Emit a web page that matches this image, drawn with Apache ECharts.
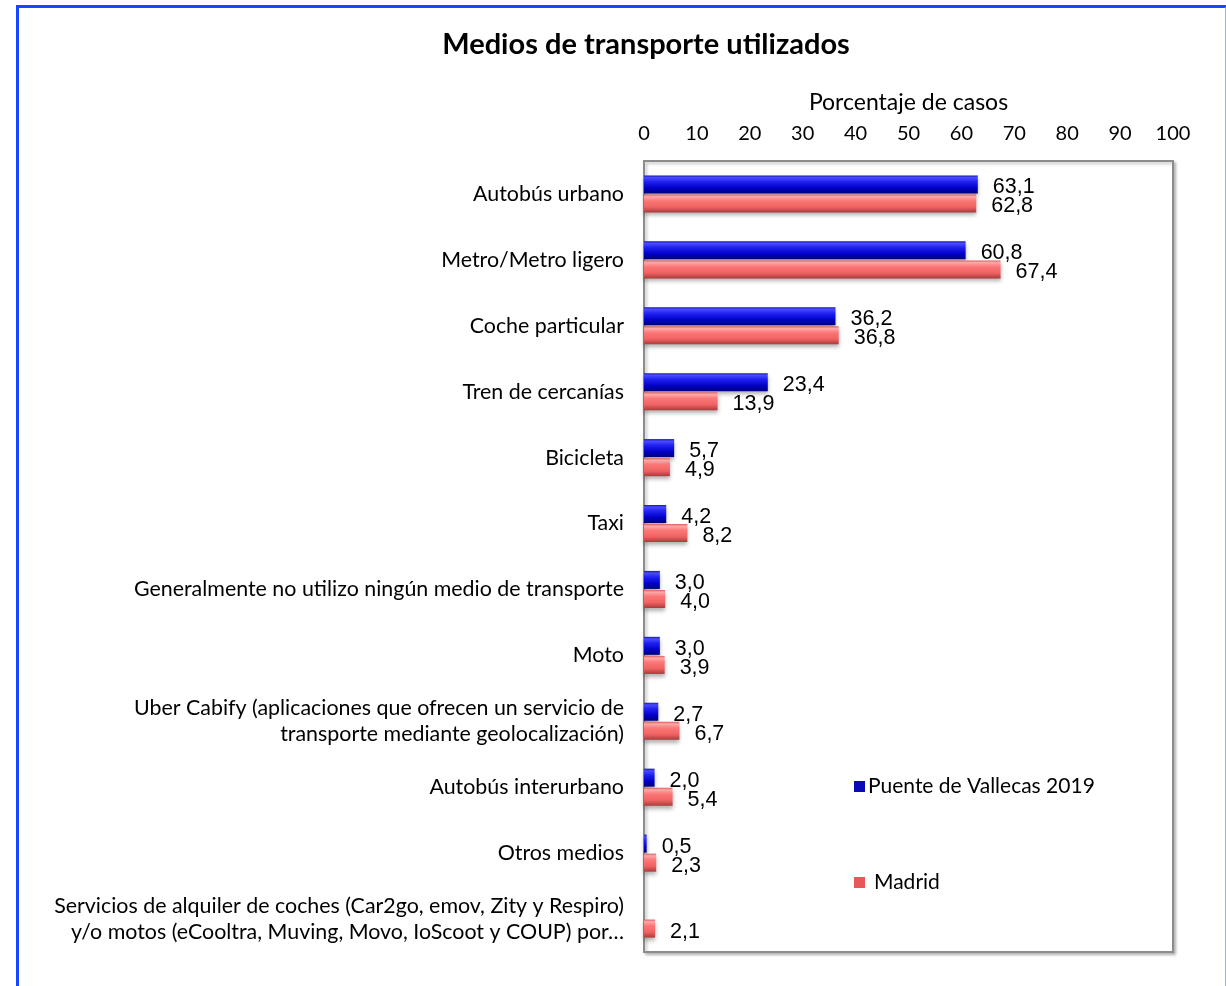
<!DOCTYPE html>
<html>
<head>
<meta charset="utf-8">
<script src="https://cdn.jsdelivr.net/npm/echarts@6/dist/echarts.min.js"></script>
<style>
    html, body { margin: 0; padding: 0; background: #fff; }
    #frame {
        position: absolute; left: 16px; top: 5px; width: 1206px; height: 1000px;
        border-left: 3px solid #1447ff; border-top: 3px solid #1447ff; border-right: 2px solid #9fb0ff;
    }
    #chart { position: absolute; left: 0; top: 0; width: 1226px; height: 986px; }
</style>
</head>
<body>
<div id="frame"></div>
<div id="chart"></div>
<script>
// Categories, top to bottom
const categories = [
    'Autobús urbano',
    'Metro/Metro ligero',
    'Coche particular',
    'Tren de cercanías',
    'Bicicleta',
    'Taxi',
    'Generalmente no utilizo ningún medio de transporte',
    'Moto',
    'Uber Cabify (aplicaciones que ofrecen un servicio de\ntransporte mediante geolocalización)',
    'Autobús interurbano',
    'Otros medios',
    'Servicios de alquiler de coches (Car2go, emov, Zity y Respiro)\ny/o motos (eCooltra, Muving, Movo, IoScoot y COUP) por…'
];

const vallecas = [63.1, 60.8, 36.2, 23.4, 5.7, 4.2, 3.0, 3.0, 2.7, 2.0, 0.5, null];
const madrid = [62.8, 67.4, 36.8, 13.9, 4.9, 8.2, 4.0, 3.9, 6.7, 5.4, 2.3, 2.1];

const xTicks = [0, 100, 10]; // min, max, interval

const chart = echarts.init(document.getElementById('chart'), null, { renderer: 'canvas' });

// Fake the bevelled 3D look with vertical gradients
const blueFill = new echarts.graphic.LinearGradient(0, 0, 0, 1, [
    { offset: 0, color: '#1a1aa8' },
    { offset: 0.12, color: '#4b4bff' },
    { offset: 0.35, color: '#2020f0' },
    { offset: 0.7, color: '#0000c8' },
    { offset: 1, color: '#00007a' }
]);
const redFill = new echarts.graphic.LinearGradient(0, 0, 0, 1, [
    { offset: 0, color: '#d86060' },
    { offset: 0.12, color: '#ffa8a8' },
    { offset: 0.35, color: '#fb7777' },
    { offset: 0.7, color: '#f06262' },
    { offset: 1, color: '#a83b3b' }
]);

const fmt = (p) => p.value == null ? '' : p.value.toFixed(1).replace('.', ',');

const labelStyle = {
    show: true,
    position: 'right',
    distance: 15,
    offset: [0, 3],
    color: '#000',
    fontSize: 21.5,
    fontFamily: '"Liberation Sans", Arial, sans-serif',
    formatter: fmt
};

chart.setOption({
    backgroundColor: 'transparent',
    animation: false,
    title: {
        text: 'Medios de transporte utilizados',
        left: 641,
        textAlign: 'center',
        top: 25,
        textStyle: { fontFamily: 'Lato', fontWeight: 'bold', fontSize: 29, color: '#000' }
    },
    legend: {
        orient: 'vertical',
        left: 849,
        top: 771,
        itemGap: 75,
        itemWidth: 11,
        itemHeight: 11,
        icon: 'rect',
        textStyle: { fontFamily: 'Lato', fontSize: 21, color: '#000', padding: [0, 0, 0, -2] },
        data: [
            { name: 'Puente de Vallecas 2019', itemStyle: { color: '#0a0ab8' } },
            { name: 'Madrid', itemStyle: { color: '#e85858' }, textStyle: { padding: [0, 0, 0, 4] } }
        ]
    },
    grid: {
        left: 644,
        right: 53,
        top: 161,
        bottom: 34,
        show: true,
        borderColor: '#8c8c8c',
        borderWidth: 2,
        backgroundColor: '#fff',
        shadowColor: 'rgba(0,0,0,0.25)',
        shadowBlur: 3,
        shadowOffsetX: 2,
        shadowOffsetY: 2
    },
    xAxis: {
        type: 'value',
        position: 'top',
        min: xTicks[0],
        max: xTicks[1],
        interval: xTicks[2],
        name: 'Porcentaje de casos',
        nameLocation: 'middle',
        nameGap: 47,
        nameTextStyle: { fontFamily: 'Lato', fontSize: 23, color: '#000' },
        axisLine: { show: false },
        axisTick: { show: false },
        splitLine: { show: false },
        axisLabel: { fontFamily: 'Lato', fontSize: 20, color: '#000', margin: 17 }
    },
    yAxis: {
        type: 'category',
        inverse: true,
        data: categories,
        axisLine: { show: false },
        axisTick: { show: false },
        axisLabel: {
            fontFamily: 'Lato',
            fontSize: 21.4,
            color: '#000',
            margin: 20,
            align: 'right',
            lineHeight: 26
        }
    },
    series: [
        {
            name: 'Puente de Vallecas 2019',
            type: 'bar',
            data: vallecas,
            barWidth: 18,
            barGap: '6%',
            itemStyle: {
                color: blueFill,
                shadowColor: 'rgba(0,0,0,0.3)',
                shadowBlur: 4,
                shadowOffsetY: 3
            },
            label: labelStyle
        },
        {
            name: 'Madrid',
            type: 'bar',
            data: madrid,
            barWidth: 18,
            itemStyle: {
                color: redFill,
                shadowColor: 'rgba(0,0,0,0.3)',
                shadowBlur: 4,
                shadowOffsetY: 3
            },
            label: labelStyle
        }
    ]
});
</script>
</body>
</html>
